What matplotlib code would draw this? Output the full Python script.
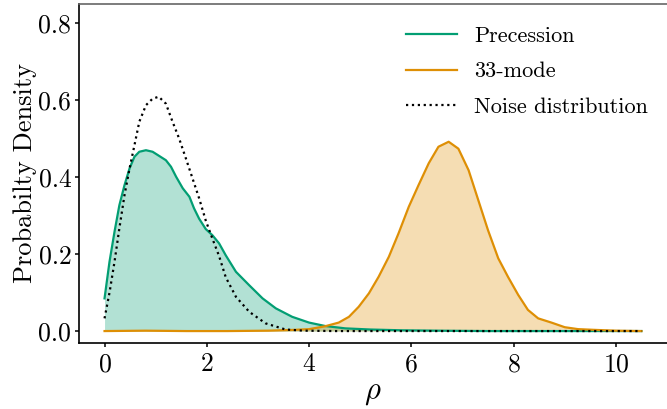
import matplotlib

matplotlib.use("Agg")
import matplotlib.pyplot as plt

plt.rcParams["font.family"] = "cmr10"
plt.rcParams["mathtext.fontset"] = "cm"
plt.rcParams["axes.formatter.use_mathtext"] = True
plt.rcParams["axes.unicode_minus"] = False

# values
prec_x = [0.0, 0.097, 0.195, 0.29, 0.39, 0.49, 0.585, 0.68, 0.81, 0.94, 1.07, 1.2,
          1.3, 1.4, 1.53, 1.66, 1.75, 1.85, 1.98, 2.11, 2.24, 2.37, 2.57, 2.83, 3.09,
          3.35, 3.67, 4.0, 4.32, 4.71, 5.2, 5.8, 6.5, 7.5, 8.5, 9.5, 10.5]
prec_y = [0.085, 0.18, 0.258, 0.327, 0.379, 0.423, 0.453, 0.466, 0.470, 0.466, 0.455,
          0.444, 0.427, 0.401, 0.371, 0.349, 0.319, 0.292, 0.265, 0.249, 0.228, 0.197,
          0.154, 0.119, 0.085, 0.059, 0.037, 0.022, 0.013, 0.007, 0.004, 0.002, 0.001,
          0.0, 0.0, 0.0, 0.0]

mode33_x = [0.0, 0.8, 1.6, 2.4, 3.2, 3.7, 4.0, 4.3, 4.58, 4.78, 4.97, 5.17, 5.36, 5.56,
            5.75, 5.95, 6.14, 6.34, 6.53, 6.73, 6.92, 7.12, 7.31, 7.5, 7.7, 7.89, 8.09,
            8.28, 8.48, 8.74, 9.0, 9.26, 9.6, 10.0, 10.5]
mode33_y = [0.0, 0.001, 0.0, 0.0, 0.001, 0.003, 0.005, 0.012, 0.022, 0.037, 0.063, 0.098,
            0.141, 0.193, 0.254, 0.323, 0.379, 0.436, 0.479, 0.492, 0.474, 0.418, 0.34,
            0.262, 0.189, 0.141, 0.094, 0.055, 0.033, 0.022, 0.01, 0.005, 0.003, 0.001, 0.0]

noise_x = [0.0, 0.1, 0.195, 0.29, 0.39, 0.49, 0.585, 0.68, 0.81, 0.94, 1.06, 1.2, 1.33,
           1.46, 1.59, 1.72, 1.85, 1.98, 2.11, 2.24, 2.37, 2.57, 2.83, 3.15, 3.54, 3.9,
           4.5, 6.0, 8.0, 10.5]
noise_y = [0.033, 0.102, 0.18, 0.267, 0.353, 0.423, 0.483, 0.544, 0.587, 0.604, 0.609,
           0.591, 0.544, 0.50, 0.449, 0.397, 0.345, 0.287, 0.24, 0.195, 0.14, 0.089,
           0.05, 0.02, 0.004, 0.001, 0.0, 0.0, 0.0, 0.0]

green = "#029e73"
orange = "#de8f05"

fig = plt.figure(figsize=(6.67, 4.09), dpi=100)
ax = fig.add_axes([0.1184, 0.1614, 0.8816, 0.8288])

ax.fill_between(prec_x, prec_y, 0, color=green, alpha=0.3, lw=0)
ax.fill_between(mode33_x, mode33_y, 0, color=orange, alpha=0.3, lw=0)
ax.plot(prec_x, prec_y, color=green, lw=1.6, label="Precession")
ax.plot(mode33_x, mode33_y, color=orange, lw=1.6, label="33-mode")
ax.plot(noise_x, noise_y, color="black", lw=1.6, ls=":", label="Noise distribution")

ax.set_xlim(-0.5, 11.0)
ax.set_ylim(-0.031, 0.85)
ax.set_xticks([0, 2, 4, 6, 8, 10])
ax.set_yticks([0.0, 0.2, 0.4, 0.6, 0.8])
ax.set_yticklabels(["0.0", "0.2", "0.4", "0.6", "0.8"])
ax.tick_params(labelsize=18.5, length=3, width=1.1, pad=2.5)
ax.tick_params(axis="x", pad=4)

ax.set_xlabel(r"$\rho$", fontsize=22, labelpad=2)
ax.set_ylabel("Probabilty Density", fontsize=19, labelpad=1)

ax.spines["right"].set_visible(False)
ax.spines["top"].set_color("0.4")
for side in ("left", "bottom"):
    ax.spines[side].set_color("black")
for side in ("left", "bottom", "top"):
    ax.spines[side].set_linewidth(1.2)

ax.legend(loc="upper right", frameon=False, fontsize=16, handlelength=2.3,
          labelspacing=0.72, borderaxespad=0.6, bbox_to_anchor=(1.006, 1.0))

fig.savefig("out.png", dpi=100)
